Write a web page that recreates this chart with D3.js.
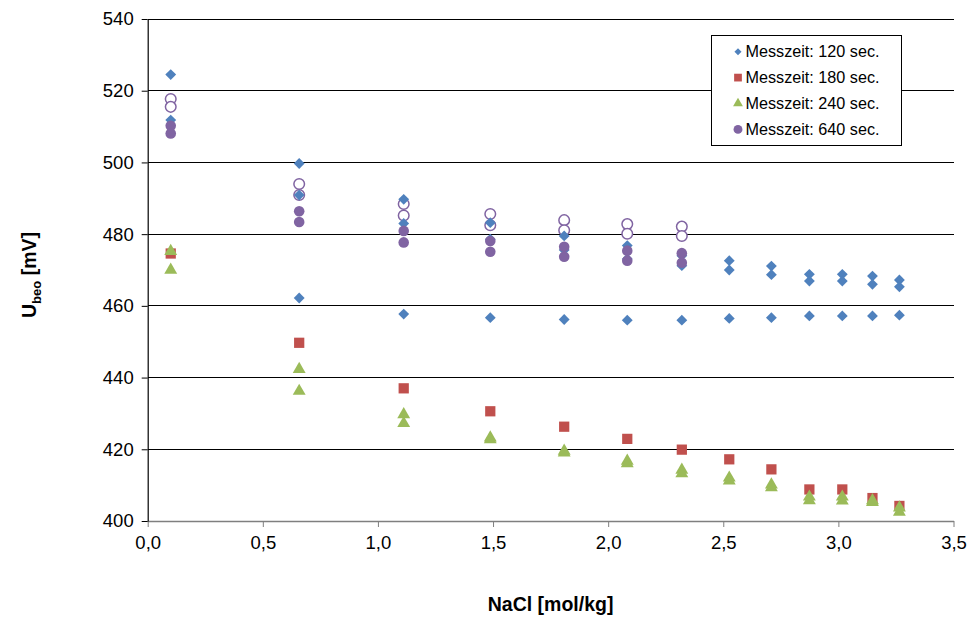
<!DOCTYPE html>
<html><head><meta charset="utf-8">
<script src="https://cdn.jsdelivr.net/npm/d3@7"></script>
<style>body{margin:0;background:#fff;} svg{display:block;font-family:"Liberation Sans",Arial,sans-serif;}</style>
</head><body>
<svg id="c" width="971" height="619"></svg>
<script>
// NaCl concentrations [mol/kg]
const nacl = [0.10, 0.658, 1.112, 1.488, 1.809, 2.083, 2.320, 2.526, 2.709, 2.874, 3.017, 3.148, 3.265];

// Messzeit 120 sec. (three runs)
const s120a = [524.5, 499.7, 489.7, 483.2, 479.5, 476.8, 474.0, 472.6, 471.1, 468.8, 468.8, 468.3, 467.2];
const s120b = [511.8, 490.9, 483.0, 478.6, 475.6, 473.1, 471.2, 470.0, 468.7, 466.9, 466.9, 466.0, 465.3];
const s120c = [null, 462.2, 457.7, 456.7, 456.2, 456.0, 456.0, 456.5, 456.7, 457.2, 457.2, 457.2, 457.4];
// Messzeit 180 sec.
const s180 = [474.6, 449.7, 437.0, 430.6, 426.3, 422.9, 419.9, 417.2, 414.4, 408.8, 408.8, 406.4, 404.2];
// Messzeit 240 sec. (two runs)
const s240a = [475.5, 442.6, 430.0, 423.5, 419.8, 417.0, 414.5, 412.3, 410.4, 407.0, 407.0, 406.0, 404.0];
const s240b = [470.3, 436.5, 427.5, 423.0, 419.3, 416.3, 413.5, 411.5, 409.6, 406.0, 405.9, 405.5, 402.8];
// Messzeit 640 sec. (filled markers, two runs)
const s640a = [510.2, 486.4, 480.9, 478.1, 476.5, 475.4, 474.7];
const s640b = [508.1, 483.4, 477.7, 475.1, 473.7, 472.6, 472.0];
// Messzeit 640 sec. (open markers, two runs)
const s640oa = [517.7, 494.0, 488.4, 485.6, 483.9, 482.8, 482.1];
const s640ob = [515.5, 490.9, 485.2, 482.5, 481.1, 480.1, 479.5];

const xTicks = [0, 0.5, 1.0, 1.5, 2.0, 2.5, 3.0, 3.5];
const yTicks = [400, 420, 440, 460, 480, 500, 520, 540];
const legendLabels = ["Messzeit: 120 sec.", "Messzeit: 180 sec.", "Messzeit: 240 sec.", "Messzeit: 640 sec."];
const colors = ["#4F81BD", "#C0504D", "#9BBB59", "#8064A2"];

const svg = d3.select("#c");
const L = 147.7, R = 953.5, T = 19, B = 521;
const x = d3.scaleLinear().domain([0, 3.5]).range([L, R]);
const y = d3.scaleLinear().domain([400, 540]).range([B, T]);

// gridlines
svg.append("g").selectAll("line").data(yTicks.slice(1)).join("line")
  .attr("x1", L).attr("x2", R).attr("y1", d => y(d)).attr("y2", d => y(d))
  .attr("stroke", "#000").attr("stroke-width", 1).attr("shape-rendering", "crispEdges");

const fmt = d => d3.format(".1f")(d).replace(".", ",");
const xAxis = svg.append("g").attr("transform", `translate(0,${B})`)
  .call(d3.axisBottom(x).tickValues(xTicks).tickFormat(fmt).tickSize(6).tickSizeOuter(0));
xAxis.select(".domain").attr("stroke", "#7f7f7f").attr("stroke-width", 1.5);
xAxis.selectAll(".tick line").attr("stroke", "#7f7f7f");
xAxis.selectAll("text").attr("font-size", 18.5).attr("fill", "#000").attr("dy", "1.0em").attr("font-family", "Liberation Sans, Arial, sans-serif");

const yAxis = svg.append("g").attr("transform", `translate(${L},0)`)
  .call(d3.axisLeft(y).tickValues(yTicks).tickSize(6).tickSizeOuter(0));
yAxis.select(".domain").attr("stroke", "#000").attr("stroke-width", 1.2);
yAxis.selectAll(".tick line").attr("stroke", "#000");
yAxis.selectAll("text").attr("font-size", 18.5).attr("fill", "#000").attr("x", -14).attr("font-family", "Liberation Sans, Arial, sans-serif");

// axis titles
svg.append("text").attr("x", (L + R) / 2 - 0).attr("y", 611).attr("text-anchor", "middle")
  .attr("font-size", 19.5).attr("font-weight", "bold").text("NaCl [mol/kg]");
const yt = svg.append("text").attr("transform", `translate(36,${(T + B) / 2 + 5}) rotate(-90)`)
  .attr("text-anchor", "middle").attr("font-size", 19.5).attr("font-weight", "bold");
yt.append("tspan").text("U");
yt.append("tspan").attr("font-size", 13).attr("dy", 5).text("beo");
yt.append("tspan").attr("dy", -5).text(" [mV]");

function pts(xs, ys) { return ys.map((v, i) => ({x: xs[i], y: v})).filter(d => d.y != null); }

const sym = {
  diamond: d3.symbol().type(d3.symbolDiamond2).size(75),
  square: d3.symbol().type(d3.symbolSquare).size(105),
  triangle: d3.symbol().type(d3.symbolTriangle).size(72),
  circle: d3.symbol().type(d3.symbolCircle).size(88)
};

function draw(data, shape, color, open) {
  svg.append("g").selectAll("path").data(data).join("path")
    .attr("d", sym[shape]())
    .attr("transform", d => `translate(${x(d.x)},${y(d.y) + (shape === "triangle" ? 1 : 0)})`)
    .attr("fill", open ? "#fff" : color)
    .attr("stroke", open ? color : "none").attr("stroke-width", 1.5);
}

draw(pts(nacl, s640oa), "circle", colors[3], true);
draw(pts(nacl, s640ob), "circle", colors[3], true);
draw(pts(nacl, s120a), "diamond", colors[0]);
draw(pts(nacl, s120b), "diamond", colors[0]);
draw(pts(nacl, s120c), "diamond", colors[0]);
draw(pts(nacl, s180), "square", colors[1]);
draw(pts(nacl, s240a), "triangle", colors[2]);
draw(pts(nacl, s240b), "triangle", colors[2]);
draw(pts(nacl, s640a), "circle", colors[3]);
draw(pts(nacl, s640b), "circle", colors[3]);

// legend
const lg = svg.append("g");
lg.append("rect").attr("x", 711.5).attr("y", 35.5).attr("width", 190).attr("height", 110)
  .attr("fill", "#fff").attr("stroke", "#000").attr("stroke-width", 1);
const lsym = [d3.symbol().type(d3.symbolDiamond2).size(32), d3.symbol().type(d3.symbolSquare).size(60),
  d3.symbol().type(d3.symbolTriangle).size(42), d3.symbol().type(d3.symbolCircle).size(62)];
legendLabels.forEach((t, i) => {
  const cy = 51.7 + i * 25.9;
  lg.append("path").attr("d", lsym[i]()).attr("transform", `translate(738,${cy})`).attr("fill", colors[i]);
  lg.append("text").attr("x", 745.5).attr("y", cy + 5.5).attr("font-size", 16.2).attr("fill", "#000").text(t);
});
</script>
</body></html>
